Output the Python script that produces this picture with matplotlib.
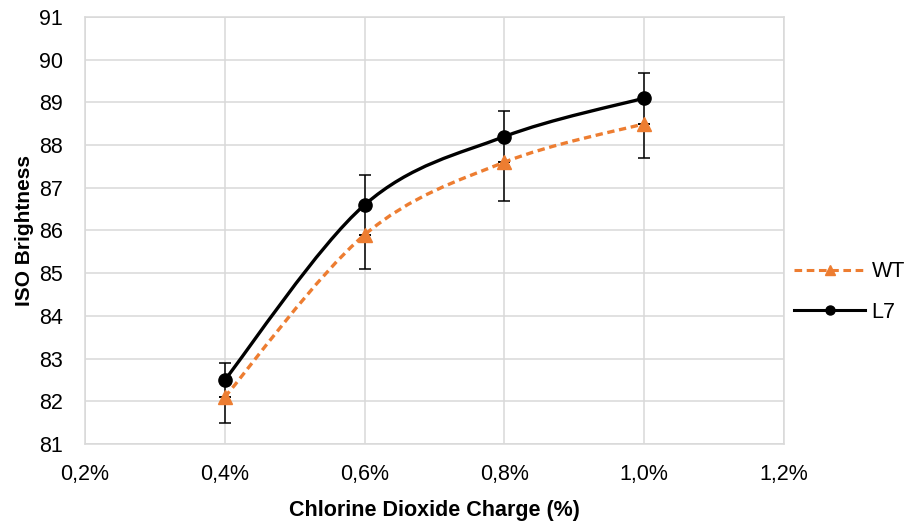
import numpy as np
import matplotlib
matplotlib.use("Agg")
import matplotlib.pyplot as plt
from matplotlib.path import Path
from matplotlib.patches import PathPatch
from matplotlib.lines import Line2D

plt.rcParams['font.family'] = ['Liberation Sans', 'DejaVu Sans']

charge = [0.4, 0.6, 0.8, 1.0]
wt = [82.1, 85.9, 87.6, 88.5]
wt_err_minus = [0.6, 0.8, 0.9, 0.8]
l7 = [82.5, 86.6, 88.2, 89.1]
l7_err = [0.4, 0.7, 0.6, 0.6]
xticks = [0.2, 0.4, 0.6, 0.8, 1.0, 1.2]
xticklabels = ['0,2%', '0,4%', '0,6%', '0,8%', '1,0%', '1,2%']
yticks = list(range(81, 92))

ORANGE = '#ED7D31'
GRID = '#d9d9d9'
FS = 15.5

fig = plt.figure(figsize=(9.09, 5.26), dpi=100)
W, H = 909, 526
ax = fig.add_axes([85 / W, 1 - 444 / H, (784 - 85) / W, (444 - 17) / H])
ax.set_xlim(0.2, 1.2)
ax.set_ylim(81, 91)


def smooth_path(xs, ys, ax):
    # Excel-like smooth line: cubic Bezier (Catmull-Rom) in display space
    pts = ax.transData.transform(np.column_stack([xs, ys]))
    n = len(pts)
    verts = [pts[0]]
    codes = [Path.MOVETO]
    for i in range(n - 1):
        p0 = pts[i - 1] if i > 0 else pts[i]
        p1 = pts[i]
        p2 = pts[i + 1]
        p3 = pts[i + 2] if i + 2 < n else pts[i + 1]
        c1 = p1 + (p2 - p0) / 6.0
        c2 = p2 - (p3 - p1) / 6.0
        verts += [c1, c2, p2]
        codes += [Path.CURVE4] * 3
    verts = ax.transData.inverted().transform(np.array(verts))
    return Path(verts, codes)


# error bars
ax.errorbar(charge, l7, yerr=[l7_err, l7_err], fmt='none', ecolor='black',
            elinewidth=1.1, capsize=4.5, capthick=1.1, zorder=3)
ax.errorbar(charge, wt, yerr=[wt_err_minus, [0] * 4], fmt='none', ecolor='black',
            elinewidth=1.1, capsize=4.5, capthick=1.1, zorder=3)

ax.add_patch(PathPatch(smooth_path(charge, l7, ax), facecolor='none',
                       edgecolor='black', lw=2.4, zorder=4, capstyle='butt'))
ax.add_patch(PathPatch(smooth_path(charge, wt, ax), facecolor='none',
                       edgecolor=ORANGE, lw=2.4, linestyle=(0, (2.2, 1.4)),
                       zorder=4, capstyle='butt'))
ax.plot(charge, l7, 'o', color='black', ms=9.5, zorder=5)
ax.plot(charge, wt, '^', color=ORANGE, ms=9.5, zorder=6)

ax.set_xticks(xticks)
ax.set_xticklabels(xticklabels)
ax.set_yticks(yticks)
ax.grid(True, color=GRID, lw=1.1, zorder=0)
ax.set_axisbelow(True)
for s in ax.spines.values():
    s.set_color(GRID)
    s.set_linewidth(1.1)
ax.tick_params(length=0, labelsize=FS, colors='black')
ax.tick_params(axis='x', pad=14.5)
ax.tick_params(axis='y', pad=16)

ax.set_xlabel('Chlorine Dioxide Charge (%)', fontsize=FS, fontweight='bold', labelpad=11)
ax.set_ylabel('ISO Brightness', fontsize=15, fontweight='bold', labelpad=3.5)

handles = [Line2D([], [], color=ORANGE, lw=2.2, ls=(0, (2.5, 1.5)), marker='^', ms=6.5),
           Line2D([], [], color='black', lw=2.2, marker='o', ms=6.5)]
fig.legend(handles, ['WT', 'L7'], loc='center left', bbox_to_anchor=(794 / W, 1 - 292 / H),
           frameon=False, fontsize=FS, handlelength=3.3, labelspacing=0.9,
           handletextpad=0.3, borderpad=0, borderaxespad=0)

fig.savefig('out.png', dpi=100)
